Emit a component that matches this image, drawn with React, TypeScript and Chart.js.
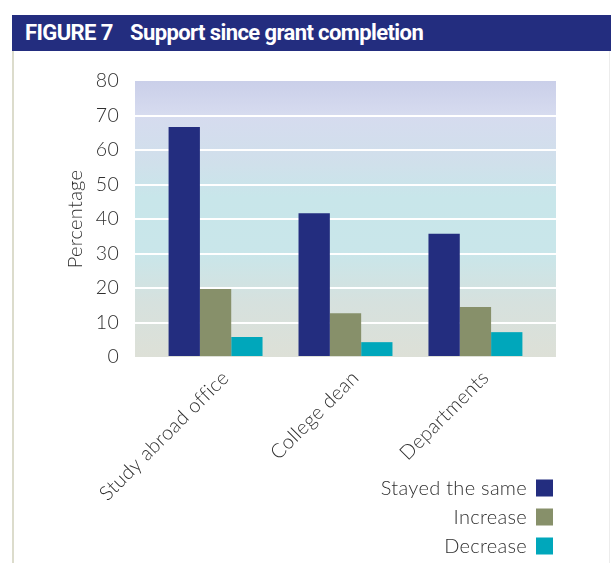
import React, { useEffect, useRef } from "react";
import { Chart, registerables } from "chart.js";

Chart.register(...registerables);

const categories = ["Study abroad office", "College dean", "Departments"];
const stayedSame = [66.7, 41.7, 35.7];
const increase = [19.7, 12.7, 14.5];
const decrease = [5.8, 4.3, 7.2];
const seriesLabels = ["Stayed the same", "Increase", "Decrease"];
const yTicks = [0, 10, 20, 30, 40, 50, 60, 70, 80];

const COLORS = ["#232d7f", "#87906a", "#00a7bb"];
const FONT = "Lato, 'Open Sans', sans-serif";
const TEXT = "#2f2f2f";

const bgPlugin = {
  id: "bgGradient",
  beforeDraw(chart: any) {
    const { ctx, chartArea } = chart;
    if (!chartArea) return;
    const g = ctx.createLinearGradient(0, chartArea.top, 0, chartArea.bottom);
    g.addColorStop(0, "#cacfe9");
    g.addColorStop(0.12, "#d6dbef");
    g.addColorStop(0.3, "#d0e0eb");
    g.addColorStop(0.42, "#c8e6ea");
    g.addColorStop(0.62, "#c9e6ea");
    g.addColorStop(0.8, "#d6e1de");
    g.addColorStop(1, "#dde0d7");
    ctx.save();
    ctx.fillStyle = g;
    ctx.fillRect(chartArea.left, chartArea.top, chartArea.right - chartArea.left, chartArea.bottom - chartArea.top);
    ctx.restore();
    ctx.letterSpacing = "0.3px";
  },
};

const legendPlugin = {
  id: "stackLegend",
  afterDraw(chart: any) {
    const { ctx, chartArea } = chart;
    const boxSize = 17;
    const boxRight = chartArea.right - 3;
    const firstY = chartArea.bottom + 131;
    const rowGap = 29;
    ctx.save();
    ctx.font = `300 20px ${FONT}`;
    ctx.letterSpacing = "0.3px";
    ctx.textAlign = "right";
    ctx.textBaseline = "middle";
    chart.data.datasets.forEach((ds: any, i: number) => {
      const cy = firstY + i * rowGap;
      ctx.fillStyle = ds.backgroundColor;
      ctx.fillRect(boxRight - boxSize, cy - boxSize / 2, boxSize, boxSize);
      ctx.fillStyle = TEXT;
      ctx.fillText(ds.label, boxRight - boxSize - 9, cy + 1);
    });
    ctx.restore();
  },
};

export default function App() {
  const ref = useRef<HTMLCanvasElement>(null);

  useEffect(() => {
    if (!ref.current) return;
    const series = [stayedSame, increase, decrease];
    const chart = new Chart(ref.current, {
      type: "bar",
      data: {
        datasets: series.map((vals, si) => ({
          label: seriesLabels[si],
          data: vals.map((v, i) => ({ x: i, y: v })),
          backgroundColor: COLORS[si],
          borderWidth: 0,
          categoryPercentage: 0.723,
          barPercentage: 1,
        })),
      },
      options: {
        responsive: false,
        animation: false,
        layout: { padding: { top: 81, right: 55, left: 0, bottom: 0 } },
        plugins: {
          legend: { display: false },
          tooltip: { enabled: false },
        },
        scales: {
          x: {
            type: "linear",
            min: -0.62,
            max: 2.62,
            offset: false,
            bounds: "data",
            grid: { display: false, offset: false },
            border: { display: false },
            afterBuildTicks: (scale: any) => {
              scale.ticks = categories.map((_, i) => ({ value: i }));
            },
            afterFit: (scale: any) => {
              scale.height = 206;
            },
            ticks: {
              autoSkip: false,
              minRotation: 45,
              maxRotation: 45,
              padding: 1,
              labelOffset: 10,
              color: TEXT,
              font: { family: FONT, size: 20, weight: "300" as any },
              callback: (v: any) => categories[v as number],
            },
          },
          y: {
            min: 0,
            max: 80,
            afterBuildTicks: (scale: any) => {
              scale.ticks = yTicks.map((v) => ({ value: v }));
            },
            afterFit: (scale: any) => {
              scale.width = 135;
            },
            border: { display: false },
            grid: {
              drawTicks: false,
              lineWidth: 2,
              color: (c: any) =>
                c.tick && (c.tick.value === 0 || c.tick.value === 80) ? "rgba(0,0,0,0)" : "#ffffff",
            },
            ticks: {
              padding: 16,
              color: TEXT,
              font: { family: FONT, size: 19.5, weight: "300" as any },
            },
            title: {
              display: true,
              text: "Percentage",
              color: TEXT,
              padding: { top: 64, bottom: 0 },
              font: { family: FONT, size: 20, weight: "300" as any },
            },
          },
        },
      },
      plugins: [bgPlugin, legendPlugin],
    });
    return () => chart.destroy();
  }, []);

  return (
    <div style={{ position: "fixed", left: 0, top: 0, width: 611, height: 563, background: "#ffffff", overflow: "hidden" }}>
      <div
        style={{
          position: "absolute",
          left: 12,
          top: 15,
          width: 599,
          height: 36,
          background: "#232d7f",
          color: "#ffffff",
          fontFamily: "Roboto, 'Open Sans', sans-serif",
          fontWeight: 700,
          fontSize: 22,
          lineHeight: "36px",
          whiteSpace: "nowrap",
          letterSpacing: "-0.6px",
        }}
      >
        <span style={{ position: "absolute", left: 13 }}>FIGURE 7</span>
        <span style={{ position: "absolute", left: 118 }}>Support since grant completion</span>
      </div>
      <div style={{ position: "absolute", left: 12, top: 51, width: 2, height: 512, background: "#dcdccc" }} />
      <div style={{ position: "absolute", left: 609, top: 51, width: 1, height: 512, background: "#ececec" }} />
      <canvas ref={ref} width={611} height={563} style={{ position: "absolute", left: 0, top: 0 }} />
    </div>
  );
}
